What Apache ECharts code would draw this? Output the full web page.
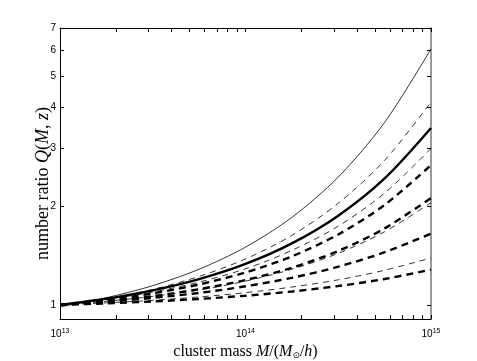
<!DOCTYPE html>
<html>
<head>
<meta charset="utf-8">
<script src="https://cdn.jsdelivr.net/npm/echarts@6/dist/echarts.min.js"></script>
<style>
  html, body { margin: 0; padding: 0; background: #fff; }
  #main { width: 477px; height: 361px; }
</style>
</head>
<body>
<div id="main"></div>
<script>
// x: log10 of cluster mass
var logMass = [13, 13.25, 13.5, 13.75, 14, 14.25, 14.5, 14.75, 15];

// Q(M,z)
var thinSolid  = [0.986, 1.051, 1.144, 1.284, 1.500, 1.849, 2.455, 3.606, 6.04];
var thinDashA  = [0.991, 1.042, 1.114, 1.221, 1.380, 1.629, 2.042, 2.761, 4.16];
var thickSolid = [1.0, 1.044, 1.107, 1.198, 1.333, 1.540, 1.871, 2.432, 3.467];
var thinDashB  = [1.0, 1.039, 1.094, 1.173, 1.288, 1.466, 1.738, 2.193, 3.00];
var thickDashA = [1.0, 1.035, 1.084, 1.154, 1.255, 1.406, 1.640, 2.018, 2.67];
var thickDashB = [1.0, 1.027, 1.063, 1.116, 1.190, 1.298, 1.460, 1.711, 2.118];
var thinDashC  = [1.0, 1.025, 1.061, 1.110, 1.181, 1.284, 1.436, 1.672, 2.05];
var thickDashC = [1.0, 1.021, 1.050, 1.087, 1.139, 1.209, 1.307, 1.447, 1.65];
var thinDashD  = [1.0, 1.014, 1.032, 1.057, 1.089, 1.133, 1.192, 1.275, 1.39];
var thickDashD = [1.0, 1.010, 1.024, 1.042, 1.066, 1.098, 1.141, 1.199, 1.28];

var yTickLabels = [1, 2, 3, 4, 5, 6, 7];
var xDecades = [13, 14, 15];

function pts(arr) {
  return logMass.map(function (m, i) { return [m, Math.log10(arr[i])]; });
}

var xMinor = [];
[13, 14].forEach(function (d) {
  for (var k = 1; k <= 9; k++) xMinor.push(d + Math.log10(k));
});
xMinor.push(15);
var yTicks = yTickLabels.map(function (v) { return Math.log10(v); });

function line(data, width, dashed) {
  return {
    type: 'line',
    data: pts(data),
    smooth: 0.3,
    showSymbol: false,
    symbol: 'none',
    silent: true,
    lineStyle: {
      color: '#000',
      width: width,
      type: dashed ? (width > 1.5 ? [7, 5] : [6, 5]) : 'solid'
    }
  };
}

var chart = echarts.init(document.getElementById('main'));
var axisLine = { show: true, onZero: false, lineStyle: { color: '#000', width: 1 } };

var option = {
  backgroundColor: '#fff',
  animation: false,
  grid: { left: 60, right: 46, top: 28, bottom: 42, outerBoundsMode: 'none', containLabel: false },
  xAxis: [{
    type: 'value',
    min: 13, max: 15,
    axisLine: axisLine,
    splitLine: { show: false },
    axisTick: { inside: true, length: 4, customValues: xMinor, lineStyle: { color: '#000' } },
    axisLabel: {
      customValues: xDecades,
      margin: 9,
      color: '#000',
      fontFamily: 'Liberation Sans',
      fontSize: 10,
      formatter: function (v) { return '10{s|' + Math.round(v) + '}'; },
      rich: { s: { fontSize: 7, verticalAlign: 'top', padding: [0, 0, 6, 0], color: '#000', fontFamily: 'Liberation Sans' } }
    },
    name: 'cluster mass {i|M}/({i|M}{sub|⊙}/{i|h})',
    nameLocation: 'middle',
    nameGap: 24,
    nameMoveOverlap: false,
    nameTextStyle: {
      color: '#000', fontFamily: 'Liberation Serif', fontSize: 16,
      rich: {
        i: { fontStyle: 'italic', fontFamily: 'Liberation Serif', fontSize: 16, color: '#000' },
        sub: { fontSize: 9, verticalAlign: 'bottom', padding: [8, 0, 0, 0], color: '#000', fontFamily: 'DejaVu Sans' }
      }
    }
  }, {
    type: 'value',
    position: 'top',
    min: 13, max: 15,
    axisLine: axisLine,
    splitLine: { show: false },
    axisTick: { inside: true, length: 4, customValues: xMinor, lineStyle: { color: '#000' } },
    axisLabel: { show: false }
  }],
  yAxis: [{
    type: 'value',
    min: Math.log10(0.905), max: Math.log10(7),
    axisLine: axisLine,
    splitLine: { show: false },
    axisTick: { inside: true, length: 4, customValues: yTicks, lineStyle: { color: '#000' } },
    axisLabel: {
      customValues: yTicks,
      margin: 4,
      color: '#000',
      fontFamily: 'Liberation Sans',
      fontSize: 10,
      formatter: function (v) { return String(Math.round(Math.pow(10, v))); }
    },
    name: 'number ratio {i|Q}({i|M}, {i|z})',
    nameLocation: 'middle',
    nameGap: 8,
    nameMoveOverlap: false,
    nameTextStyle: {
      color: '#000', fontFamily: 'Liberation Serif', fontSize: 18,
      padding: [0, 20, 0, 0],
      rich: { i: { fontStyle: 'italic', fontFamily: 'Liberation Serif', fontSize: 18, color: '#000' } }
    }
  }, {
    type: 'value',
    position: 'right',
    min: Math.log10(0.905), max: Math.log10(7),
    axisLine: { show: true, onZero: false, lineStyle: { color: '#777', width: 1.5 } },
    splitLine: { show: false },
    axisTick: { inside: true, length: 4, customValues: yTicks, lineStyle: { color: '#000' } },
    axisLabel: { show: false }
  }],
  series: [
    line(thinSolid, 0.8, false),
    line(thinDashA, 0.8, true),
    line(thickSolid, 2.4, false),
    line(thinDashB, 0.8, true),
    line(thickDashA, 2.4, true),
    line(thickDashB, 2.4, true),
    line(thinDashC, 0.8, true),
    line(thickDashC, 2.4, true),
    line(thinDashD, 0.8, true),
    line(thickDashD, 2.4, true)
  ]
};

chart.setOption(option);
</script>
</body>
</html>
